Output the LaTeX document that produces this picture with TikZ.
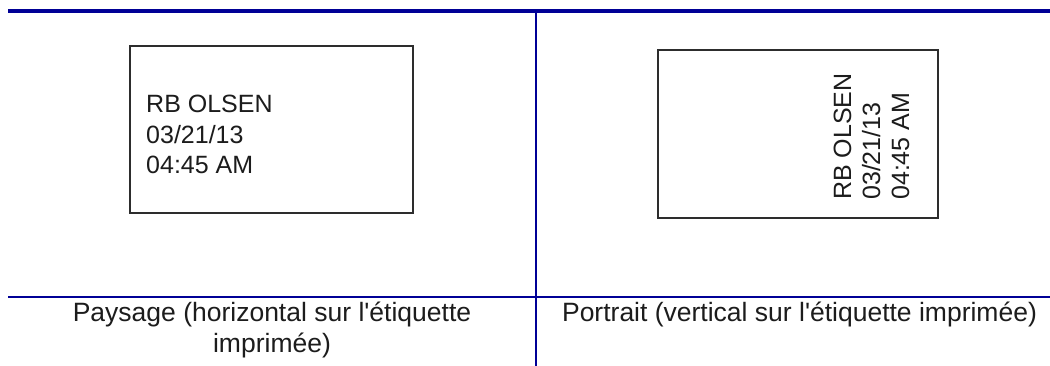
\documentclass[tikz,border=0pt]{standalone}
\usepackage{fontspec}
\setmainfont{Liberation Sans}[Ligatures=TeXOff]
\definecolor{rulecol}{RGB}{0,0,150}
\definecolor{inkcol}{RGB}{28,28,28}
\definecolor{boxcol}{RGB}{45,45,45}
\tikzset{
  rulemain/.style={draw=rulecol,line width=4pt},
  ruleline/.style={draw=rulecol,line width=1.8pt},
  labelbox/.style={draw=boxcol,line width=1.5pt},
  labeltext/.style={inner sep=0pt,anchor=base west,text=inkcol,font=\fontsize{25}{30}\selectfont},
  captiontext/.style={inner sep=0pt,anchor=base,text=inkcol,font=\fontsize{26.5}{30}\selectfont}
}
\begin{document}
\begin{tikzpicture}[x=1pt,y=-1pt]
\useasboundingbox (0,0) rectangle (1050,366);
\fill[white] (0,0) rectangle (1050,366);
% table rules
\draw[rulemain] (8,11) -- (1050,11);
\draw[ruleline] (535.7,11) -- (535.7,366);
\draw[ruleline] (8,297) -- (1050,297);
% landscape label
\draw[labelbox] (130,46) rectangle (413,213);
\node[labeltext] (l1) at (146,113) {RB OLSEN};
\node[labeltext] (l2) at (146,143.5) {03/21/13};
\node[labeltext] (l3) at (146,174) {04:45 AM};
% portrait label
\draw[labelbox] (658,50) rectangle (938,218);
\node[labeltext,rotate=90] (p1) at (851,200) {RB OLSEN};
\node[labeltext,rotate=90] (p2) at (880,200) {03/21/13};
\node[labeltext,rotate=90] (p3) at (909,200) {04:45 AM};
% captions
\node[captiontext] (c1) at (272,321.5) {Paysage (horizontal sur l'étiquette};
\node[captiontext] (c2) at (272,352) {imprimée)};
\node[captiontext] (c3) at (799.5,321.5) {Portrait (vertical sur l'étiquette imprimée)};
\end{tikzpicture}
\end{document}
